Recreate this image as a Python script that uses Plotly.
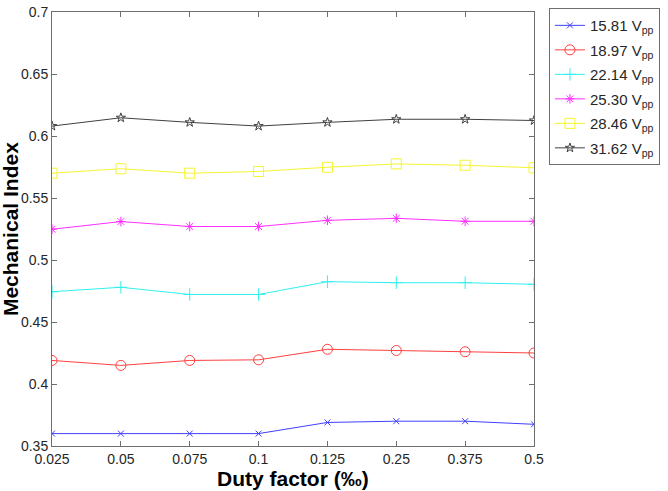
import plotly.graph_objects as go

categories = ["0.025", "0.05", "0.075", "0.1", "0.125", "0.25", "0.375", "0.5"]
y_ticks = [0.35, 0.4, 0.45, 0.5, 0.55, 0.6, 0.65, 0.7]
y_tick_labels = ["0.35", "0.4", "0.45", "0.5", "0.55", "0.6", "0.65", "0.7"]

s15_81 = [0.360, 0.360, 0.360, 0.360, 0.369, 0.370, 0.370, 0.3675]
s18_97 = [0.419, 0.415, 0.419, 0.4195, 0.428, 0.427, 0.426, 0.425]
s22_14 = [0.4744, 0.478, 0.4722, 0.4722, 0.4825, 0.4817, 0.4817, 0.4804]
s25_30 = [0.5248, 0.531, 0.527, 0.527, 0.532, 0.5336, 0.5312, 0.5312]
s28_46 = [0.570, 0.5736, 0.570, 0.5714, 0.5748, 0.5775, 0.5764, 0.5744]
s31_62 = [0.608, 0.6147, 0.611, 0.608, 0.611, 0.6135, 0.6135, 0.6125]

labels = ["15.81", "18.97", "22.14", "25.30", "28.46", "31.62"]
series = [s15_81, s18_97, s22_14, s25_30, s28_46, s31_62]
colors = ["#4040ff", "#ff4040", "#30f0f0", "#ff30ff", "#f5f530", "#404040"]
symbols = ["x-thin-open", "circle-open", "cross-thin-open", "asterisk-open", "square-open", "star-open"]
sizes = [6, 10, 9, 8, 10, 7]

x_idx = list(range(len(categories)))
FONT = "Liberation Sans, Arial, sans-serif"

fig = go.Figure()
for lab, ys, c, sym, sz in zip(labels, series, colors, symbols, sizes):
    fig.add_trace(go.Scatter(
        x=x_idx, y=ys, mode="lines+markers",
        name=f"{lab} V<sub>pp</sub>", legendgroup=lab,
        line=dict(color=c, width=1),
        marker=dict(symbol=sym, size=sz, color=c, line=dict(color=c, width=1)),
    ))

axis_common = dict(
    showline=True, linecolor="#6e6e6e", linewidth=1, mirror="ticks",
    ticks="inside", ticklen=5, tickcolor="#6e6e6e", showgrid=False, zeroline=False,
    automargin=False, ticklabeloverflow="allow",
    tickfont=dict(family=FONT, size=14, color="#262626"),
)

fig.update_layout(
    width=668, height=491,
    margin=dict(l=52, r=132, t=8, b=45),
    paper_bgcolor="white", plot_bgcolor="white",
    showlegend=True,
    legend=dict(
        x=1.031, y=1.009, xanchor="left", yanchor="top",
        bordercolor="#6e6e6e", borderwidth=1, bgcolor="white",
        font=dict(family=FONT, size=15, color="#262626"),
        tracegroupgap=2, itemwidth=30,
    ),
    xaxis=dict(axis_common, range=[0, 7], tickvals=x_idx, ticktext=categories),
    yaxis=dict(axis_common, range=[0.35, 0.7], tickvals=y_ticks, ticktext=y_tick_labels),
    annotations=[
        dict(text="<b>Duty factor (‰)</b>", xref="paper", yref="paper",
             x=0.5, y=-0.076, xanchor="center", yanchor="middle", showarrow=False,
             font=dict(family=FONT, size=21, color="black")),
        dict(text="<b>Mechanical Index</b>", xref="paper", yref="paper",
             x=-0.087, y=0.5, xanchor="center", yanchor="middle", showarrow=False,
             textangle=-90, font=dict(family=FONT, size=21, color="black")),
    ],
)

fig.write_html("out.html", config={"displayModeBar": False},
               post_script="document.body.style.margin='0';")
